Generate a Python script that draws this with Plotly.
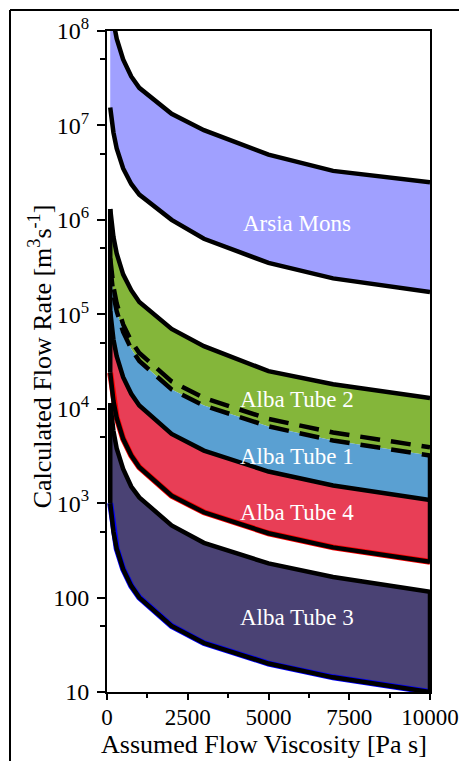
import math
import plotly.graph_objects as go

# ---------------- data ----------------
viscosity = [100, 200, 300, 500, 750, 1000, 2000, 3000, 5000, 7000, 10000]

arsia_upper = [2.5e8, 1.25e8, 8.3e7, 5.0e7, 3.3e7, 2.5e7, 1.33e7, 8.9e6, 4.9e6, 3.3e6, 2.5e6]
arsia_lower = [1.55e7, 8.4e6, 5.7e6, 3.5e6, 2.4e6, 1.85e6, 1.0e6, 6.3e5, 3.5e5, 2.4e5, 1.72e5]
tube2_upper = [1.3e6, 6.6e5, 4.4e5, 2.65e5, 1.8e5, 1.35e5, 7.0e4, 4.6e4, 2.5e4, 1.82e4, 1.3e4]
tube2_dash = [3.9e5, 1.95e5, 1.3e5, 7.8e4, 5.2e4, 3.9e4, 1.95e4, 1.3e4, 7.8e3, 5.6e3, 3.9e3]
tube1_upper = [3.2e5, 1.6e5, 1.08e5, 6.5e4, 4.3e4, 3.2e4, 1.6e4, 1.08e4, 6.5e3, 4.6e3, 3.2e3]
tube1_lower = [1.08e5, 5.4e4, 3.6e4, 2.16e4, 1.44e4, 1.08e4, 5.4e3, 3.6e3, 2.16e3, 1.54e3, 1.08e3]
tube4_lower = [2.4e4, 1.2e4, 8.0e3, 4.8e3, 3.2e3, 2.4e3, 1.2e3, 8.0e2, 4.8e2, 3.4e2, 2.4e2]
tube3_upper = [1.15e4, 5.8e3, 3.8e3, 2.3e3, 1.5e3, 1.15e3, 5.8e2, 3.8e2, 2.3e2, 1.65e2, 1.15e2]
tube3_lower = [1.0e3, 5.0e2, 3.3e2, 2.0e2, 1.33e2, 1.0e2, 5.0e1, 3.3e1, 2.0e1, 1.43e1, 1.0e1]

band_names = ["Arsia Mons", "Alba Tube 2", "Alba Tube 1", "Alba Tube 4", "Alba Tube 3"]
label_x = [5880, 5880, 5880, 5880, 5880]
label_y = [9.2e5, 1.24e4, 3.1e3, 8.0e2, 61]

y_tick_vals = [10, 100, 1e3, 1e4, 1e5, 1e6, 1e7, 1e8]
y_tick_text = ["10", "100", "10<sup>3</sup>", "10<sup>4</sup>", "10<sup>5</sup>",
               "10<sup>6</sup>", "10<sup>7</sup>", "10<sup>8</sup>"]
y_minor_vals = [50, 500, 5e3, 5e4, 5e5, 5e6, 5e7]
x_tick_vals = [0, 2500, 5000, 7500, 10000]
x_minor_vals = [1250, 3750, 6250, 8750]

# ---------------- styles ----------------
FONT = "Liberation Serif, serif"
C_ARSIA = "#a0a0ff"
C_T2 = "#84b63a"
C_T1 = "#5aa0d2"
C_T4 = "#e83e56"
C_T3 = "#4a4274"
LW = 4.5

fig = go.Figure()

def band(upper, lower, color):
    fig.add_trace(go.Scatter(
        x=viscosity + viscosity[::-1], y=upper + lower[::-1],
        mode="lines", fill="toself", fillcolor=color,
        line=dict(width=0, color=color), hoverinfo="skip", showlegend=False))

band(arsia_upper, arsia_lower, C_ARSIA)
band(tube2_upper, tube1_upper, C_T2)
band(tube1_upper, tube1_lower, C_T1)
band(tube1_lower, tube4_lower, C_T4)
band(tube3_upper, tube3_lower, C_T3)

def line(xs, ys, dash="solid", width=LW, color="black"):
    fig.add_trace(go.Scatter(x=xs, y=ys, mode="lines",
                             line=dict(color=color, width=width, dash=dash),
                             hoverinfo="skip", showlegend=False))

# coloured series lines peeking beneath the outlines
line(viscosity, tube4_lower, width=6, color="#ff0000")
line(viscosity, tube3_lower, width=6, color="#0000ff")

for curve in [arsia_upper, arsia_lower, tube2_upper, tube1_lower,
              tube4_lower, tube3_upper, tube3_lower]:
    line(viscosity, curve)
line(viscosity, tube2_dash, dash="20px,11px", width=4.5)
line(viscosity, tube1_upper, dash="20px,11px", width=4.5)

# closing edges of the bands
line([viscosity[-1], viscosity[-1]], [tube1_upper[-1], tube4_lower[-1]])
line([viscosity[-1], viscosity[-1]], [tube3_upper[-1], tube3_lower[-1]])
line([viscosity[0], viscosity[0]], [tube2_upper[0], tube4_lower[0]])
line([viscosity[0], viscosity[0]], [tube3_upper[0], tube3_lower[0]])

for name, lx, ly in zip(band_names, label_x, label_y):
    fig.add_annotation(x=lx, y=math.log10(ly), xref="x", yref="y",
                       text=name, showarrow=False,
                       xanchor="center", yanchor="middle",
                       font=dict(family=FONT, size=23, color="white"))

# axis titles
fig.add_annotation(x=-0.207, y=0.508, xref="paper", yref="paper",
                   text="Calculated Flow Rate [m<sup>3</sup>s<sup>-1</sup>]",
                   textangle=-90, showarrow=False,
                   xanchor="center", yanchor="middle",
                   font=dict(family=FONT, size=26, color="black"))
fig.add_annotation(x=0.486, y=-0.0787, xref="paper", yref="paper",
                   text="Assumed Flow Viscosity [Pa s]", showarrow=False,
                   xanchor="center", yanchor="middle",
                   font=dict(family=FONT, size=26, color="black"))

# outer partial frame
fig.add_shape(type="line", xref="paper", yref="paper",
              x0=-0.3003, x1=1.2, y0=1.0318, y1=1.0318,
              line=dict(color="black", width=2))
fig.add_shape(type="line", xref="paper", yref="paper",
              x0=-0.3003, x1=-0.3003, y0=1.0318, y1=-0.2,
              line=dict(color="black", width=2))

# the page body has an 8px margin, so the figure is 8px smaller to fit the window
fig.update_layout(
    width=459, height=753,
    margin=dict(l=99, r=37, t=23, b=69),
    paper_bgcolor="white", plot_bgcolor="white",
    font=dict(family=FONT, size=24, color="black"),
    showlegend=False,
    xaxis=dict(range=[0, 10000], tickvals=x_tick_vals,
               ticktext=[str(v) for v in x_tick_vals],
               ticks="outside", ticklen=6, tickwidth=2, tickcolor="black",
               ticklabelstandoff=-3,
               showline=True, linecolor="black", linewidth=2, mirror=True,
               showgrid=False, zeroline=False, automargin=False,
               minor=dict(tickvals=x_minor_vals, ticks="outside", ticklen=4,
                          tickwidth=2, tickcolor="black"),
               tickfont=dict(family=FONT, size=23)),
    yaxis=dict(type="log", range=[1, 8], tickvals=y_tick_vals, ticktext=y_tick_text,
               ticks="outside", ticklen=8, tickwidth=2, tickcolor="black",
               ticklabelstandoff=3,
               showline=True, linecolor="black", linewidth=2, mirror=True,
               showgrid=False, zeroline=False, automargin=False,
               minor=dict(tickvals=y_minor_vals, ticks="outside", ticklen=5,
                          tickwidth=2, tickcolor="black"),
               tickfont=dict(family=FONT, size=24)),
)

fig.write_html("out.html")
